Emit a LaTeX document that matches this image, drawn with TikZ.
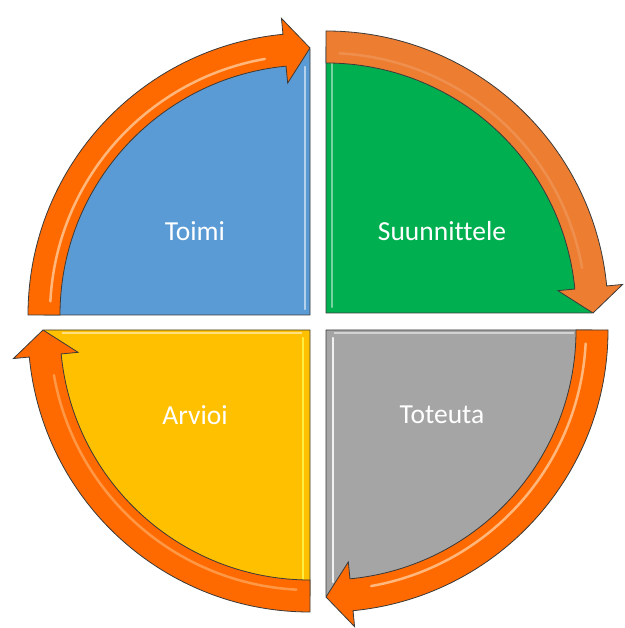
\documentclass[tikz,border=0pt]{standalone}
\usepackage{fontspec}
\setmainfont[Ligatures=NoCommon]{Carlito}
\usetikzlibrary{calc}
\definecolor{qblue}{HTML}{5B9BD5}
\definecolor{qgreen}{HTML}{00B050}
\definecolor{qgray}{HTML}{A5A5A5}
\definecolor{qgold}{HTML}{FFC000}
\definecolor{arrbright}{HTML}{FF6A00}
\definecolor{arrsoft}{HTML}{ED7D31}
\definecolor{edgegray}{HTML}{3A3A3A}
\newcommand{\quadpie}[3]{% center, start angle, colour
  \filldraw[quadshape, fill=#3] (#1) -- ($(#1)+({#2}:266pt)$)
    arc[start angle=#2, end angle={#2+90}, radius=266pt] -- cycle;}
\newcommand{\cyclearrow}[3]{% center, tail angle, colour
  \filldraw[arrowshape, fill=#3]
    ($(#1)+({#2}:282pt)$) arc[start angle=#2, end angle={#2-84.5}, radius=282pt]
    -- ($(#1)+({#2-84.5}:298pt)$) -- ($(#1)+({#2-90}:267pt)$)
    -- ($(#1)+({#2-84.5}:233pt)$) -- ($(#1)+({#2-84.5}:250pt)$)
    arc[start angle={#2-84.5}, end angle=#2, radius=250pt] -- cycle;}
\newcommand{\arrowshine}[4]{% center, tail angle, colour, opacity
  \draw[shine, draw=#3, opacity=#4] ($(#1)+({#2-3}:260pt)$)
    arc[start angle={#2-3}, end angle={#2-80}, radius=260pt];}
\begin{document}
\begin{tikzpicture}[x=1pt,y=1pt,
  quadshape/.style={draw=edgegray, line width=0.8pt, line join=round},
  arrowshape/.style={draw=edgegray, line width=0.8pt, line join=miter},
  shine/.style={line width=2.5pt, line cap=round},
  bevel/.style={line width=2.5pt, line cap=round, opacity=0.85},
  lbl/.style={text=white, font=\fontsize{27.5}{32}\selectfont, inner sep=0pt}]
\useasboundingbox (0,0) rectangle (624,628);
\coordinate (C1) at (310,313);
\coordinate (C2) at (326,315);
\coordinate (C3) at (326,298);
\coordinate (C4) at (310,298);
% quadrants
\quadpie{C1}{90}{qblue}
\quadpie{C2}{0}{qgreen}
\quadpie{C3}{-90}{qgray}
\quadpie{C4}{180}{qgold}
% bevel highlights
\draw[bevel, draw=qblue!35!white] ($(C1)+(-5,6)$) -- ($(C1)+(-5,248)$);
\draw[bevel, draw=qgreen!45!white] ($(C2)+(6,6)$) -- ($(C2)+(6,250)$);
\draw[bevel, draw=white] ($(C3)+(7,-8)$) -- ($(C3)+(7,-252)$);
\draw[line width=1.5pt, draw=qgray!50!white] ($(C3)+(8,-3)$) -- ($(C3)+(248,-3)$);
\draw[bevel, draw=yellow!70!white] ($(C4)+(-7,-8)$) -- ($(C4)+(-7,-250)$);
\draw[line width=1.5pt, draw=qgold!50!white] ($(C4)+(-8,-3)$) -- ($(C4)+(-248,-3)$);
% cycle arrows
\cyclearrow{C1}{180}{arrbright}
\cyclearrow{C2}{90}{arrsoft}
\cyclearrow{C3}{0}{arrbright}
\cyclearrow{C4}{270}{arrbright}
\arrowshine{C1}{180}{orange!30!white}{0.7}
\arrowshine{C2}{90}{arrsoft!60!white}{0.35}
\arrowshine{C3}{0}{orange!30!white}{0.7}
\arrowshine{C4}{270}{orange!45!white}{0.5}
% labels
\node[lbl] (toimi) at (195,397) {Toimi};
\node[lbl] (suunnittele) at (442,397) {Suunnittele};
\node[lbl] (toteuta) at (442,213) {Toteuta};
\node[lbl] (arvioi) at (195,213) {Arvioi};
\end{tikzpicture}
\end{document}
